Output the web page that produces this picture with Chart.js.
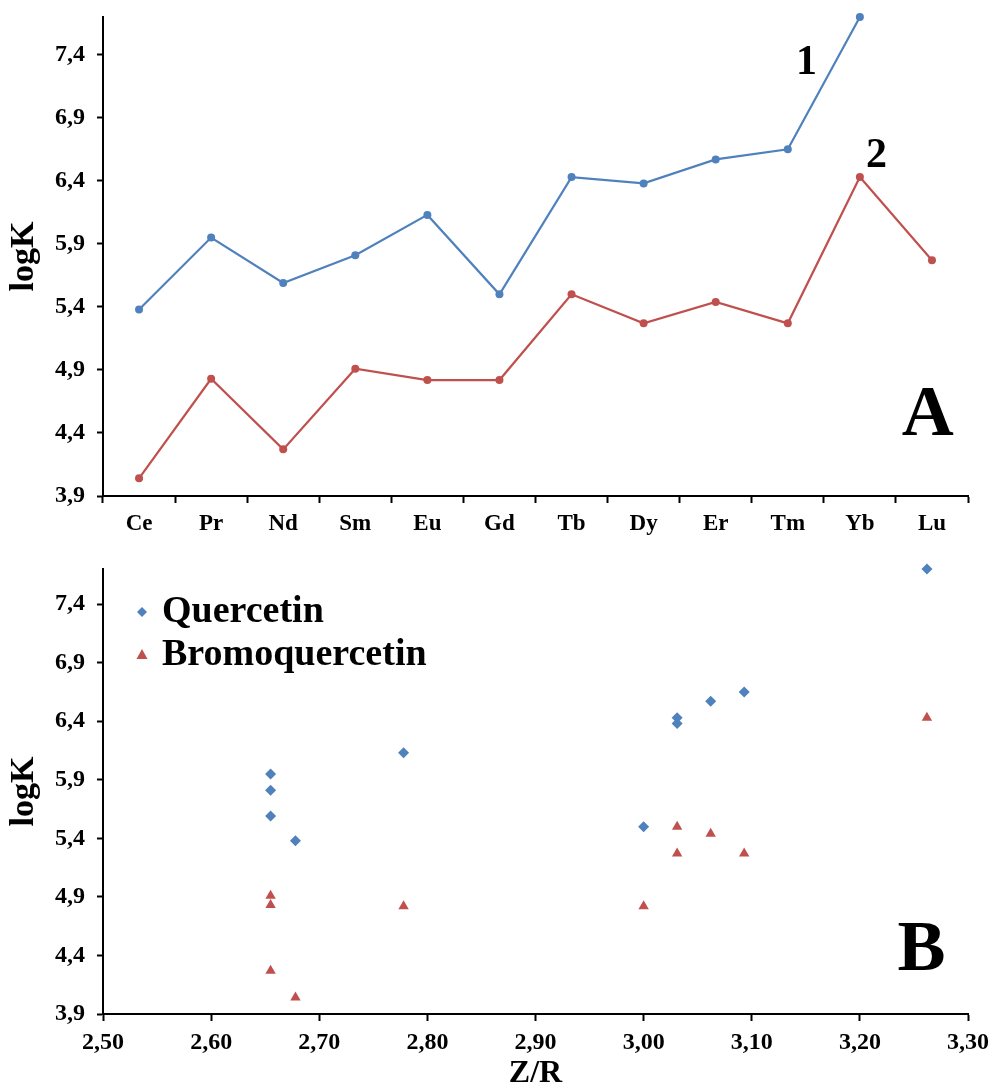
<!DOCTYPE html>
<html>
<head>
<meta charset="utf-8">
<script src="https://cdn.jsdelivr.net/npm/chart.js@4.4.1/dist/chart.umd.min.js"></script>
<style>
  html, body { margin: 0; padding: 0; background: #fff; overflow: hidden; }
  #cajaA { position: absolute; left: 0; top: 0; width: 992px; height: 545px; }
  #cajaB { position: absolute; left: 0; top: 545px; width: 992px; height: 541px; }
</style>
</head>
<body>
<div id="cajaA"><canvas id="graficaA"></canvas></div>
<div id="cajaB"><canvas id="graficaB"></canvas></div>
<script>
// lanthanides, Z/R and logK for both ligands (Lu has no Z/R / quercetin value)
const elementos = ['Ce', 'Pr', 'Nd', 'Sm', 'Eu', 'Gd', 'Tb', 'Dy', 'Er', 'Tm', 'Yb', 'Lu'];
const zr = [2.678, 2.655, 2.655, 2.655, 2.778, 3.000, 3.031, 3.031, 3.062, 3.093, 3.262, null];
const logKQuercetin = [5.38, 5.95, 5.59, 5.81, 6.13, 5.50, 6.43, 6.38, 6.57, 6.65, 7.70, null];
const logKBromo = [4.04, 4.83, 4.27, 4.91, 4.82, 4.82, 5.50, 5.27, 5.44, 5.27, 6.43, 5.77];
const nombres = ['Quercetin', 'Bromoquercetin'];
const ticksLogK = [3.9, 4.4, 4.9, 5.4, 5.9, 6.4, 6.9, 7.4];
const ticksZR = [2.5, 2.6, 2.7, 2.8, 2.9, 3.0, 3.1, 3.2, 3.3];

const AZUL = '#4F81BD';
const ROJO = '#C0504D';
const FUENTE = '"Liberation Serif", "Times New Roman", serif';

Chart.defaults.font.family = FUENTE;
Chart.defaults.font.weight = 'bold';
Chart.defaults.color = '#000';

const coma = (v, d) => Number(v).toFixed(d).replace('.', ',');

function ejeLogK() {
    return {
        min: 3.9,
        max: 7.7,
        afterBuildTicks: s => { s.ticks = ticksLogK.map(v => ({ value: v })); },
        afterFit: s => { s.width = 103; s.paddingTop = 0; s.paddingBottom = 0; },
        border: { color: '#000', width: 2 },
        grid: { drawOnChartArea: false, tickLength: 6, tickColor: '#000', tickWidth: 2 },
        ticks: { padding: 12, font: { size: 24, weight: 'bold' }, callback: v => coma(v, 1) },
        title: { display: true, text: 'logK', font: { size: 34, weight: 'bold' }, padding: 4 }
    };
}

// big letters / curve numbers placed in data units
const rotulos = {
    id: 'rotulos',
    afterDatasetsDraw(chart, args, opts) {
        const { ctx, scales: { x, y } } = chart;
        ctx.save();
        ctx.fillStyle = '#000';
        ctx.textAlign = 'center';
        ctx.textBaseline = 'alphabetic';
        (opts.items || []).forEach(it => {
            ctx.font = `bold ${it.size}px ${FUENTE}`;
            ctx.fillText(it.text, x.getPixelForValue(it.x), y.getPixelForValue(it.y));
        });
        ctx.restore();
    }
};

// legend drawn inside the plot, top left
const leyendaInterna = {
    id: 'leyendaInterna',
    afterDraw(chart) {
        const { ctx, chartArea } = chart;
        ctx.save();
        chart.data.datasets.forEach((ds, i) => {
            const cy = chartArea.top + 43 + i * 43;
            const cx = chartArea.left + 39;
            ctx.fillStyle = ds.backgroundColor;
            ctx.beginPath();
            if (ds.pointStyle === 'triangle') {
                ctx.moveTo(cx, cy - 6);
                ctx.lineTo(cx + 5.5, cy + 4);
                ctx.lineTo(cx - 5.5, cy + 4);
            } else {
                ctx.moveTo(cx, cy - 5);
                ctx.lineTo(cx + 5, cy);
                ctx.lineTo(cx, cy + 5);
                ctx.lineTo(cx - 5, cy);
            }
            ctx.closePath();
            ctx.fill();
            ctx.fillStyle = '#000';
            ctx.font = `bold 38px ${FUENTE}`;
            ctx.textBaseline = 'alphabetic';
            ctx.fillText(ds.label, chartArea.left + 59, cy + 10);
        });
        ctx.restore();
    }
};

new Chart(document.getElementById('graficaA'), {
    type: 'line',
    data: {
        labels: elementos,
        datasets: [
            { label: nombres[0], data: logKQuercetin, borderColor: AZUL, backgroundColor: AZUL, clip: false,
              borderWidth: 2.2, pointRadius: 4, pointBorderWidth: 0, tension: 0 },
            { label: nombres[1], data: logKBromo, borderColor: ROJO, backgroundColor: ROJO, clip: false,
              borderWidth: 2.2, pointRadius: 4, pointBorderWidth: 0, tension: 0 }
        ]
    },
    plugins: [rotulos],
    options: {
        responsive: true,
        maintainAspectRatio: false,
        animation: false,
        layout: { padding: { top: 17, right: 24, left: 0, bottom: 0 } },
        plugins: {
            legend: { display: false },
            tooltip: { enabled: false },
            rotulos: {
                items: [
                    { text: '1', x: 9.26, y: 7.25, size: 42 },
                    { text: '2', x: 10.23, y: 6.51, size: 42 },
                    { text: 'A', x: 10.94, y: 4.38, size: 72 }
                ]
            }
        },
        scales: {
            x: {
                offset: true,
                afterFit: s => { s.height = 49; s.paddingLeft = 0; s.paddingRight = 0; },
                border: { color: '#000', width: 2 },
                grid: { offset: true, drawOnChartArea: false, tickLength: 7, tickColor: '#000', tickWidth: 2 },
                ticks: { padding: 7, font: { size: 23, weight: 'bold' } }
            },
            y: ejeLogK()
        }
    }
});

const puntosQ = [];
const puntosB = [];
zr.forEach((z, i) => {
    if (z === null) return;
    if (logKQuercetin[i] !== null) puntosQ.push({ x: z, y: logKQuercetin[i] });
    if (logKBromo[i] !== null) puntosB.push({ x: z, y: logKBromo[i] });
});

new Chart(document.getElementById('graficaB'), {
    type: 'scatter',
    data: {
        datasets: [
            { label: nombres[0], data: puntosQ, pointStyle: 'rectRot', pointRadius: 5.5, clip: false,
              backgroundColor: AZUL, borderColor: AZUL, pointBorderWidth: 0 },
            { label: nombres[1], data: puntosB, pointStyle: 'triangle', pointRadius: 6, clip: false,
              backgroundColor: ROJO, borderColor: ROJO, pointBorderWidth: 0 }
        ]
    },
    plugins: [rotulos, leyendaInterna],
    options: {
        responsive: true,
        maintainAspectRatio: false,
        animation: false,
        layout: { padding: { top: 24, right: 24, left: 0, bottom: 0 } },
        plugins: {
            legend: { display: false },
            tooltip: { enabled: false },
            rotulos: { items: [{ text: 'B', x: 3.257, y: 4.28, size: 72 }] }
        },
        scales: {
            x: {
                type: 'linear',
                min: 2.5,
                max: 3.3,
                afterBuildTicks: s => { s.ticks = ticksZR.map(v => ({ value: v })); },
                afterFit: s => { s.height = 72; s.paddingLeft = 0; s.paddingRight = 0; },
                border: { color: '#000', width: 2 },
                grid: { drawOnChartArea: false, tickLength: 7, tickColor: '#000', tickWidth: 2 },
                ticks: { padding: 7, font: { size: 24, weight: 'bold' }, callback: v => coma(v, 2) },
                title: { display: true, text: 'Z/R', font: { size: 32, weight: 'bold', lineHeight: 1 },
                         padding: { top: 0, bottom: -4 } }
            },
            y: ejeLogK()
        }
    }
});
</script>
</body>
</html>
